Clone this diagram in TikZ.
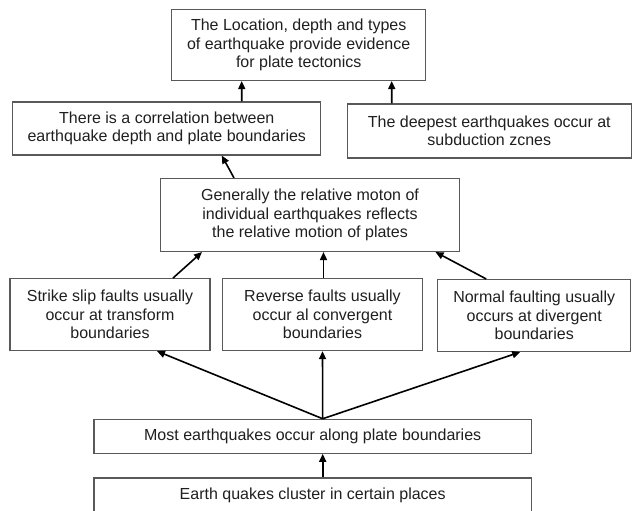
\documentclass[tikz,border=0pt]{standalone}
\usepackage{fontspec}
\setmainfont{Liberation Sans}
\usetikzlibrary{arrows.meta,calc}

\begin{document}
\begin{tikzpicture}[x=1pt, y=-1pt,
  every node/.style={font=\fontsize{16}{18.5}\selectfont, text=black!88},
  box/.style={draw=black!65, line width=1.1pt, align=center, inner sep=0pt},
  arr/.style={-{Triangle[length=8pt,width=7pt]}, line width=1.6pt}]
  \useasboundingbox (0,0) rectangle (632,511);
  % top row
  \node[box, minimum width=254pt, minimum height=71pt] (top) at (298.7,45)
    {The Location, depth and types\\of earthquake provide evidence\\for plate tectonics};
  \node[box, minimum width=308pt, minimum height=53pt] (corr) at (166.8,128.5)
    {There is a correlation between\\earthquake depth and plate boundaries};
  \node[box, minimum width=283.5pt, minimum height=54pt] (deep) at (489.3,131)
    {The deepest earthquakes occur at\\subduction zcnes};
  % middle
  \node[box, minimum width=299pt, minimum height=73pt] (gen) at (310,215)
    {Generally the relative moton of\\individual earthquakes reflects\\the relative motion of plates};
  \node[box, minimum width=200pt, minimum height=72pt] (strike) at (110,314.6)
    {Strike slip faults usually\\occur at transform\\boundaries};
  \node[box, minimum width=200pt, minimum height=72pt] (rev) at (322.5,314.6)
    {Reverse faults usually\\occur al convergent\\boundaries};
  \node[box, minimum width=193pt, minimum height=72pt] (norm) at (534.2,315.5)
    {Normal faulting usually\\occurs at divergent\\boundaries};
  % bottom
  \node[box, minimum width=437.5pt, minimum height=34pt] (most) at (312.7,436.3)
    {Most earthquakes occur along plate boundaries};
  \node[box, minimum width=437.5pt, minimum height=35pt] (clust) at (312.7,495.5)
    {Earth quakes cluster in certain places};
  % arrows
  \draw[arr] ([xshift=10pt]clust.north) -- ([xshift=10pt]most.south);
  \draw[arr] ([xshift=10pt]most.north) -- ([xshift=47pt]strike.south);
  \draw[arr] ([xshift=10pt]most.north) -- ([xshift=0pt]rev.south);
  \draw[arr] ([xshift=10pt]most.north) -- ([xshift=-14pt]norm.south);
  \draw[arr] ([xshift=63pt]strike.north) -- ([xshift=-108pt]gen.south);
  \draw[arr] ([xshift=1pt]rev.north) -- ([xshift=13.5pt]gen.south);
  \draw[arr] ([xshift=-48pt]norm.north) -- ([xshift=125.5pt]gen.south);
  \draw[arr] ([xshift=-76pt]gen.north) -- ([xshift=55pt]corr.south);
  \draw[arr] ([xshift=75pt]corr.north) -- ([xshift=-57pt]top.south);
  \draw[arr] ([xshift=-97.5pt]deep.north) -- ([xshift=93pt]top.south);
\end{tikzpicture}
\end{document}
